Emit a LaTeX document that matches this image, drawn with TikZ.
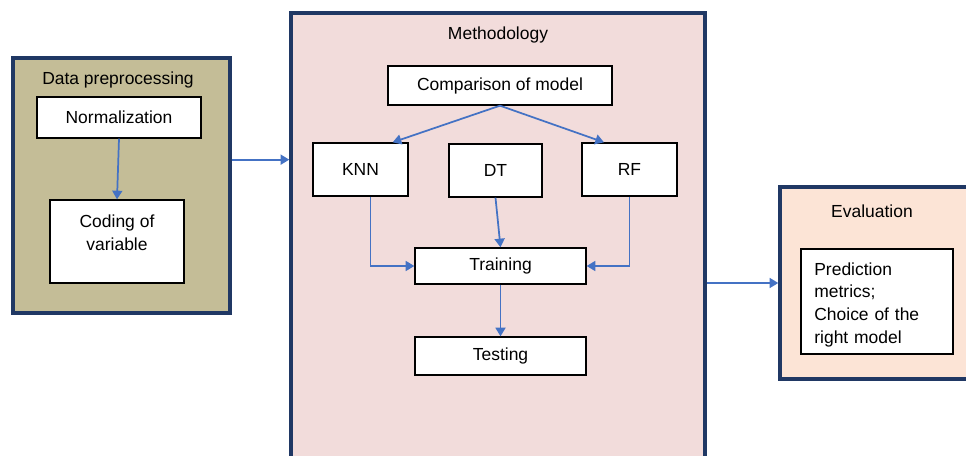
\documentclass[tikz,border=0pt]{standalone}
\usepackage{fontspec}
\setmainfont{Liberation Sans}
\usepackage{xcolor}
\usetikzlibrary{arrows.meta,calc}

\definecolor{navy}{HTML}{203864}
\definecolor{arrowblue}{HTML}{4472C4}
\definecolor{prepfill}{HTML}{C4BD97}
\definecolor{methfill}{HTML}{F2DCDB}
\definecolor{evalfill}{HTML}{FCE4D6}

\begin{document}
\begin{tikzpicture}[x=0.75pt, y=-0.75pt,
    every node/.style={font=\fontsize{13.1}{17}\selectfont},
    group/.style={rectangle, draw=navy, line width=2.6pt},
    box/.style={rectangle, draw, fill=white, line width=1pt, inner sep=0pt},
    flow/.style={draw=arrowblue, line width=1.3pt, -{Triangle[width=7.5pt,length=6.5pt]}}]
    \clip (0,0) rectangle (966,456);
    \fill[white] (0,0) rectangle (966,456);

    % outer stages
    \node[group, fill=prepfill, minimum width=162.75pt, minimum height=191.25pt] (prep) at (121.5,185.5) {};
    \node[group, fill=methfill, minimum width=310.5pt, minimum height=342.75pt] (method) at (498,241.5) {};
    \node[group, fill=evalfill, minimum width=153.75pt, minimum height=144pt] (eval) at (882.5,283) {};
    \node (preptitle) at (118,80) {Data preprocessing};
    \node (methtitle) at (498,35) {Methodology};
    \node (evaltitle) at (872,211) {Evaluation};

    % data preprocessing
    \node[box, minimum width=123pt, minimum height=30.75pt] (norm) at (119,117.5) {Normalization};
    \node[box, minimum width=100.5pt, minimum height=62.25pt] (coding) at (117,241.5) {};
    \node[align=center] (codingtext) at (117,232.5) {Coding of\\variable};
    \draw[flow] (norm.south) -- (coding.north);

    % methodology
    \node[box, minimum width=168pt, minimum height=29.25pt] (cmp) at (500,85.5) {Comparison of model};
    \node[box, minimum width=71.25pt, minimum height=39.75pt] (knn) at (360.5,169.5) {KNN};
    \node[box, minimum width=69.75pt, minimum height=39.75pt] (dt) at (495.5,170.5) {DT};
    \node[box, minimum width=71.25pt, minimum height=39.75pt] (rf) at (629.5,169.5) {RF};
    \node[box, minimum width=128.25pt, minimum height=27pt] (train) at (500.5,266) {Training};
    \node[box, minimum width=128.25pt, minimum height=28.5pt] (test) at (500.5,356) {Testing};
    \draw[flow] (cmp.south) -- ([xshift=-12pt]knn.north east);
    \draw[flow] (cmp.south) -- ([xshift=17pt]rf.north west);
    \draw[flow] ([xshift=7.5pt]knn.south) |- (train.west);
    \draw[flow] (dt.south) -- (train.north);
    \draw[flow] (rf.south) |- (train.east);
    \draw[flow] (train.south) -- (test.north);

    % evaluation
    \node[box, minimum width=114pt, minimum height=78.75pt, text width=94pt, align=left] (metrics) at (877,301.5)
        {\rule{0pt}{14pt}Prediction\\metrics;\\Choice of the\\right model};

    % stage links
    \coordinate (prepout) at ($(prep.north east)!0.4!(prep.south east)$);
    \draw[flow] (prepout) -- (prepout -| method.west);
    \draw[flow] (method.east |- eval) -- (eval.west);
\end{tikzpicture}
\end{document}
